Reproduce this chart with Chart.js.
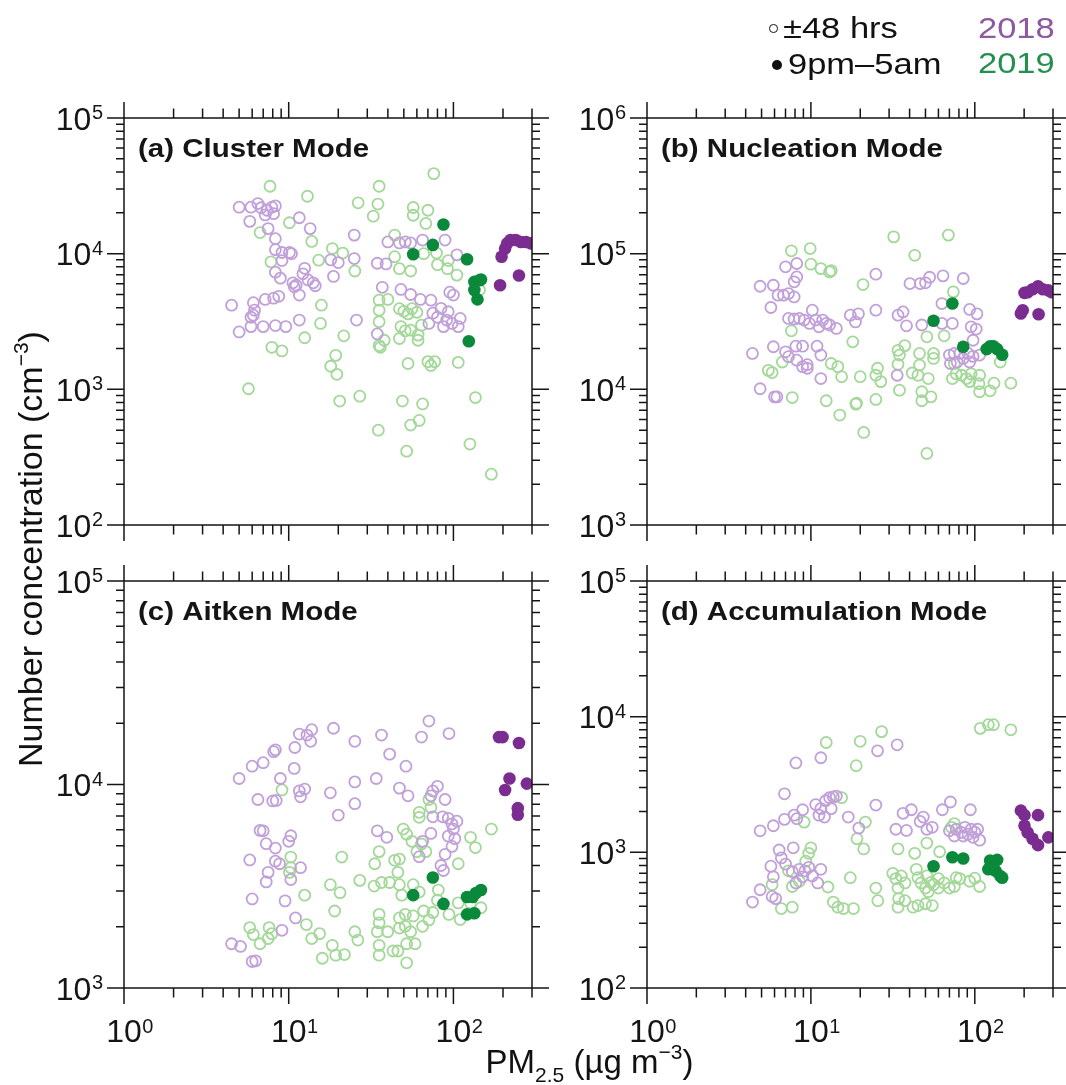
<!DOCTYPE html>
<html><head><meta charset="utf-8">
<script src="https://cdn.jsdelivr.net/npm/chart.js@4.4.1/dist/chart.umd.min.js"></script>
<style>
html,body{margin:0;padding:0;background:#fff;}
body{width:1066px;height:1085px;position:relative;overflow:hidden;font-family:"Liberation Sans",Arial,sans-serif;color:#111;}
canvas{position:absolute;left:0;top:0;}
.t{position:absolute;white-space:nowrap;line-height:1;}
.sup{font-size:21px;position:relative;top:-14px;}
.sub{font-size:21px;position:relative;top:9px;}
.sl{transform:scaleX(1.15);transform-origin:0 50%;}
.sr{transform:scaleX(1.15);transform-origin:100% 50%;}
</style></head><body>
<canvas id="ca" width="1066" height="1085"></canvas>
<canvas id="cb" width="1066" height="1085"></canvas>
<canvas id="cc" width="1066" height="1085"></canvas>
<canvas id="cd" width="1066" height="1085"></canvas>

<div style="position:absolute;left:769px;top:24px;width:8.6px;height:8.6px;border:1.4px solid #111;border-radius:50%;box-sizing:border-box;"></div>
<div style="position:absolute;left:772px;top:60.3px;width:10px;height:10px;background:#111;border-radius:50%;"></div>
<div class="t sl" style="left:783px;top:12.6px;font-size:30px;">±48 hrs</div>
<div class="t sl" style="left:788px;top:48.6px;font-size:30px;">9pm–5am</div>
<div class="t sr" id="y18" style="right:11px;top:12.6px;font-size:30px;">2018</div>
<div class="t sr" id="y19" style="right:11px;top:47.6px;font-size:30px;">2019</div>

<div class="t" style="left:289.5px;width:600px;text-align:center;top:1045px;font-size:33px;">PM<span class="sub">2.5</span> (µg m<span class="sup">−3</span>)</div>
<div class="t" style="left:-320px;width:700px;text-align:center;top:532px;height:34px;line-height:34px;font-size:34px;transform:rotate(-90deg);transform-origin:50% 50%;">Number concentration (cm<span class="sup">−3</span>)</div>

<script>
// ---------------- DATA ----------------
const panelTitles = ['(a) Cluster Mode', '(b) Nucleation Mode', '(c) Aitken Mode', '(d) Accumulation Mode'];
const seriesNames = ['2018 ±48 hrs', '2019 ±48 hrs', '2019 9pm–5am', '2018 9pm–5am'];
const xRange = [1, 300];
const xTickExps = [0, 1, 2];
const yRangeA = [1e2, 1e5];
const yRangeB = [1e3, 1e6];
const yRangeC = [1e3, 1e5];
const yRangeD = [1e2, 1e5];

// (a) Cluster mode  [PM2.5, number concentration]
const aOpen2018 = [[5.0,22000],[5.9,22000],[6.5,23400],[6.8,21800],[7.4,20900],[7.9,22000],[8.3,22500],[8.1,19700],[7.2,19300],[5.8,17300],[7.5,15300],[8.3,12900],[8.3,10700],[9.1,10200],[10.1,10200],[10.4,10000],[11.6,18400],[13.5,15300],[25,13700],[40,12200],[47,12000],[51,12200],[55,12000],[65,12600],[89,12600],[18,9000],[20,8600],[25,9200],[34.5,8500],[39,8400],[105,9800],[9.1,8900],[8.3,7300],[8.9,6600],[10.6,6100],[11.1,5850],[12.2,7100],[12.5,7800],[13.1,6400],[14.1,6100],[14.5,5800],[11.6,4950],[10.8,5700],[18.7,6800],[4.5,4170],[6.1,4350],[6.2,3830],[6.1,3520],[5.9,3400],[7.2,4600],[8.1,4700],[8.7,4850],[5.0,2650],[5.9,2900],[7.0,2900],[8.3,2950],[9.6,2900],[11.6,3240],[25.8,3240],[34.5,2560],[37,5650],[48,5450],[55,5000],[63,4600],[73,4540],[95,5200],[100,4950],[71,3060],[75,3640],[80,3400],[87,2900],[91,3240],[93,3730],[98,3060],[107,2900],[110,3330],[84,3950]];
const aOpen2019 = [[7.7,31400],[13.0,26500],[26.4,23700],[35.4,31400],[34.8,23200],[32.6,18900],[76,38900],[57,21900],[57,19200],[70,20900],[68,16700],[10.1,16900],[6.7,14300],[13.8,12300],[18.4,10900],[21.3,10100],[15.2,8950],[7.8,8700],[25.2,7450],[44,13700],[44,9500],[47,7750],[55,7450],[80,8300],[92,7750],[93,8900],[105,6950],[79,10100],[66,10000],[15.8,4170],[15.6,3060],[12.5,2400],[7.9,2040],[9.1,1920],[21.6,2480],[35.4,4540],[35.4,3830],[35.4,3150],[40,4600],[47,3930],[50,3760],[53,3600],[60,3700],[56,3930],[48,2900],[47,2370],[51,2700],[55,2730],[61,2510],[61,2300],[64,2970],[35.4,2100],[38,2300],[36,2040],[19.3,1780],[18,1480],[19.6,1290],[5.7,1010],[53,1550],[70,1600],[73,1500],[77,1600],[107,1580],[20.4,820],[27,890],[49,820],[65,780],[136,870],[35,500],[55,545],[62,590],[126,395],[52,350],[170,237],[144,5400]];
const aNight2019 = [[57,9900],[75,11600],[87,16400],[121,9100],[134,6200],[144,6370],[134,5400],[140,4600],[124,2260],[147,6450]];
const aNight2018 = [[196,9500],[192,5850],[206,10900],[212,11900],[222,12600],[239,12600],[257,12200],[276,12200],[295,11900],[250,6900]];

// (b) Nucleation mode
const bOpen2018 = [[4.4,18400],[4.9,57500],[4.9,10100],[5.9,58500],[5.7,40100],[5.9,20600],[6.0,8800],[6.2,8800],[6.3,49400],[6.8,49400],[7.0,80000],[7.3,50800],[7.9,48000],[8.2,84600],[8.2,67400],[7.9,62000],[7.3,33300],[7.9,33000],[8.5,33300],[9.1,32400],[9.8,30600],[10.2,38300],[10.7,32400],[11.2,28900],[11.8,32400],[12.4,30600],[13.0,29800],[14.3,28100],[7.0,18900],[7.3,17400],[8.2,16400],[8.9,14700],[9.5,14300],[8.1,20800],[8.9,20800],[10.9,20800],[11.5,17900],[11.5,12000],[9.5,15200],[17.4,35200],[18.7,31400],[19.5,36000],[24.9,38300],[24.9,70600],[34,35200],[36.5,37200],[38.3,29400],[33.6,12700],[40.2,60200],[46.4,60200],[50,61000],[53,67000],[64,68600],[85,65600],[63,42900],[47.5,29800],[63,30600],[73,30600],[93,38800],[103,36000],[95,28900],[102,27800],[97.6,23000],[70,17900],[75,18400],[81,18400],[85,16900],[91,18400],[97.6,17500],[107,17900],[71,15500],[78,15900],[93,15900]];
const bOpen2019 = [[7.6,105000],[9.9,109000],[10.0,83600],[11.5,77600],[13.0,73400],[13.3,75000],[20.8,59200],[32,133000],[43,97300],[69,137000],[74,52300],[7.6,27000],[18,22400],[37.4,21000],[34,19400],[34.7,17900],[34,15300],[46,18400],[56,18400],[56,16900],[51,24400],[65,24800],[75,15500],[5.5,13800],[5.8,13300],[6.7,15900],[7.7,8700],[12.4,8240],[13.3,15500],[14.6,14700],[15.4,12400],[15,6460],[18.8,7780],[19,7900],[20,12400],[21,4810],[24.9,8420],[25.5,14300],[26.7,11400],[24.9,12700],[34.7,9860],[41.5,13200],[45,12700],[46,15100],[47.5,9600],[47.5,8240],[52,12000],[54,8800],[51,3370],[73,12000],[77,13000],[83,12700],[89,12000],[95,13000],[107,12700],[93,11400],[106,11000],[107,9600],[124,9750],[131,11100],[143,15900],[166,11100]];
const bNight2019 = [[56,32000],[73,42900],[85,20600],[118,19800],[124,20800],[130,20800],[137,19800],[147,18000]];
const bNight2018 = [[191,36200],[196,38300],[201,51400],[210,52000],[225,54600],[243,57500],[260,54600],[281,53600],[295,52000],[245,35800]];

// (c) Aitken mode
const cOpen2018 = [[4.5,1650],[5.1,1600],[6.0,1350],[6.3,1360],[5.0,10700],[6.0,12300],[7.0,12800],[8.1,14500],[8.3,14800],[8.9,10700],[6.5,8440],[8.0,8300],[8.4,8350],[10.9,15200],[11.6,17700],[12.9,17500],[13.8,18600],[13.6,16300],[18.7,18900],[10.8,12000],[11.6,9300],[12.5,9500],[11.8,8700],[17.9,9100],[20.0,7070],[25.2,16300],[36.6,17500],[41,14100],[51.5,12300],[25.2,10300],[34,10700],[25.2,8050],[47,9600],[53,8800],[64,17100],[71,20500],[94,17800],[75,9300],[80,9800],[89,8440],[73,8800],[75,6940],[86,6940],[93,6820],[98,6400],[105,6600],[100,6040],[93,5580],[102,5420],[98,4960],[89,4540],[84,4000],[87,3780],[73,5750],[65,5260],[34.5,5920],[39.4,5500],[62,4420],[6.7,5950],[7.0,5920],[7.3,5120],[8.3,4870],[10.0,5260],[10.3,5600],[5.8,4260],[8.3,4200],[8.8,4080],[7.5,3700],[7.3,3320],[10.3,3410],[11.8,3900],[6.0,2740],[9.5,2680],[11.0,2210],[9.1,1920]];
const cOpen2019 = [[9.1,9400],[71,8440],[73,7700],[62,7300],[62,6900],[49.6,6040],[52,5700],[56,5260],[64,5100],[60,4680],[68,4680],[127,5500],[136,4900],[170,6040],[107,4080],[10.3,4400],[10.3,3900],[10.1,3700],[21,4400],[35.4,4680],[33.3,4080],[44,4240],[47,4300],[46,3700],[41,3300],[36.6,3300],[33,3170],[27,3380],[17.9,3220],[20.5,2940],[12.5,2860],[47,3220],[48.6,2860],[57,3220],[62,2960],[81,3030],[66,2390],[75,2350],[80,2700],[94,2300],[110,2170],[107,2620],[127,2620],[147,2480],[19,2390],[47,2210],[51,2300],[57,2260],[35.4,2300],[35.4,2090],[34.5,1890],[39.9,1890],[47,1970],[51,2010],[55,1890],[65,2010],[71,2160],[26.3,1720],[25.2,1890],[35.4,1620],[35.4,1450],[43,1520],[46,1520],[52,1650],[58.5,1650],[52,1330],[18.4,1620],[19.3,1450],[21.8,1460],[16,1400],[13.8,1750],[15.4,1850],[12.8,2050],[5.8,1980],[6.1,1830],[6.7,1650],[7.6,1980],[7.9,1850],[7.5,1750]];
const cNight2019 = [[57,2860],[75,3490],[87,2590],[121,2800],[131,2800],[137,2930],[147,3030],[121,2300],[134,2330]];
const cNight2018 = [[189,17100],[199,17100],[250,16000],[219,10700],[206,9400],[279,10100],[246,7650],[246,7100]];

// (d) Accumulation mode
const dOpen2018 = [[4.4,430],[4.9,530],[4.9,1440],[5.9,1570],[6.9,2700],[6.9,1750],[8.1,4560],[8.2,1770],[7.9,1880],[8.9,2060],[11.5,4980],[10.7,2250],[11.5,2100],[12.3,2400],[13.0,2530],[13.7,2560],[14.3,2600],[13.3,2100],[11.2,1880],[12.1,1820],[16.9,1820],[19.6,1510],[24.9,2230],[25.5,5600],[33.6,6200],[36.5,1940],[41,2060],[33,1480],[38.3,1450],[46.4,1690],[48.5,1820],[51,1480],[55,1530],[63.4,2060],[71,2350],[94,2060],[70,1440],[77,1480],[83,1400],[87,1530],[91,1360],[95,1480],[100,1410],[104,1480],[107,1230],[97.6,1290],[85,1320],[75,1320],[6.4,1040],[7.8,1080],[6.6,910],[7.0,820],[5.7,790],[5.9,660],[5.8,473],[6.1,456],[7.7,720],[8.5,750],[9.2,731],[9.7,776],[10.2,670],[11.5,750],[11.0,595],[8.9,660],[8.1,595]];
const dOpen2019 = [[12.4,6450],[20,6580],[27,7760],[18.9,4350],[108,8200],[121,8730],[130,8730],[166,8000],[15.4,2530],[9.1,1670],[19.1,1260],[21,1060],[21.5,1670],[34,1060],[43,983],[51,1170],[61,1010],[72,1530],[75,1630],[10,1080],[9.7,983],[9.3,860],[7.3,731],[7.7,560],[8.5,612],[6.6,385],[7.7,394],[5.8,578],[12.7,555],[13.7,430],[14.6,394],[15.8,385],[18.2,385],[17.4,650],[24.9,545],[25.6,440],[31.6,700],[33,640],[35.6,670],[37.5,595],[34,545],[34.3,456],[34,394],[37.5,440],[42,394],[45,405],[50,418],[55,405],[44,750],[45,650],[47,595],[50,545],[52,513],[56,578],[51,670],[54,600],[60,545],[65,595],[70,545],[75,560],[60,640],[77,650],[81,640],[93,612],[107,560],[100,645]];
const dNight2019 = [[56,790],[73,920],[85,900],[121,750],[124,870],[137,880],[134,730],[143,670],[147,650],[124,776]];
const dNight2018 = [[191,2030],[201,1880],[243,1880],[201,1570],[210,1400],[225,1260],[243,1130],[281,1290]];

// ---------------- STYLE / LAYOUT ----------------
const COL_OPEN18 = '#c1a0da';
const COL_OPEN19 = '#a3d899';
const COL_NIGHT18 = '#7b2c90';
const COL_NIGHT19 = '#0a893b';
const INK = '#151515';
const FONT = '"Liberation Sans", Arial, sans-serif';
document.getElementById('y18').style.color = '#8f59a1';
document.getElementById('y19').style.color = '#23904f';

const W = 1066, H = 1085;
function padFor(l, t, r, b) { return {left: l, top: t, right: W - r, bottom: H - b}; }

const framePlugin = {
  id: 'frame',
  afterDraw(chart, args, o) {
    const ctx = chart.ctx, xs = chart.scales.x, ys = chart.scales.y, a = chart.chartArea;
    ctx.save();
    ctx.strokeStyle = INK; ctx.fillStyle = INK; ctx.lineWidth = 1.5;
    ctx.strokeRect(a.left, a.top, a.right - a.left, a.bottom - a.top);
    ctx.beginPath();
    for (let e = -1; e <= 3; e++) for (let m = 1; m <= 9; m++) {
      const v = m * Math.pow(10, e);
      if (v < xs.min * 0.999 || v > xs.max * 1.001) continue;
      const px = xs.getPixelForValue(v);
      const len = m === 1 ? 16 : 9.5;
      ctx.moveTo(px, a.bottom); ctx.lineTo(px, a.bottom + len);
      ctx.moveTo(px, a.top); ctx.lineTo(px, a.top - len);
    }
    for (let e = 0; e <= 7; e++) for (let m = 1; m <= 9; m++) {
      const v = m * Math.pow(10, e);
      if (v < ys.min * 0.999 || v > ys.max * 1.001) continue;
      const py = ys.getPixelForValue(v);
      const len = m === 1 ? 17 : 8;
      ctx.moveTo(a.left, py); ctx.lineTo(a.left - len, py);
      ctx.moveTo(a.right, py); ctx.lineTo(a.right + len, py);
    }
    ctx.stroke();

    const e0 = Math.round(Math.log10(ys.min)), e1 = Math.round(Math.log10(ys.max));
    for (let e = e0; e <= e1; e++) {
      const py = ys.getPixelForValue(Math.pow(10, e));
      ctx.textAlign = 'right'; ctx.textBaseline = 'alphabetic';
      ctx.font = '20px ' + FONT;
      const ex = a.left - 21;
      ctx.fillText(String(e), ex, py + 1);
      const ew = ctx.measureText(String(e)).width;
      ctx.font = '32px ' + FONT;
      ctx.fillText('10', ex - ew - 0.5, py + 11.5);
    }
    if (o.xLabels) {
      for (const e of xTickExps) {
        const px = xs.getPixelForValue(Math.pow(10, e));
        ctx.font = '32px ' + FONT; ctx.textAlign = 'center';
        const w = ctx.measureText('10').width;
        ctx.fillText('10', px, a.bottom + 54);
        ctx.font = '20px ' + FONT; ctx.textAlign = 'left';
        ctx.fillText(String(e), px + w / 2 + 0.5, a.bottom + 44.5);
      }
    }
    ctx.font = 'bold 25px ' + FONT; ctx.textAlign = 'left';
    ctx.translate(a.left + 14, a.top + 39);
    ctx.scale(1.18, 1);
    ctx.fillText(o.title, 0, 0);
    ctx.restore();
  }
};

function xy(arr) { return arr.map(p => ({x: p[0], y: p[1]})); }

function makePanel(id, pad, yRange, open18, open19, night19, night18, title, xLabels) {
  const openStyle = (c) => ({pointRadius: 5.5, pointBorderWidth: 1.8, pointBorderColor: c, pointBackgroundColor: 'rgba(255,255,255,0)', pointHoverRadius: 5.5});
  const fillStyle = (c) => ({pointRadius: 6.3, pointBorderWidth: 0, pointBorderColor: c, pointBackgroundColor: c, pointHoverRadius: 6.3});
  return new Chart(document.getElementById(id), {
    type: 'scatter',
    data: {datasets: [
      Object.assign({label: seriesNames[3], data: xy(night18), order: 0, clip: 0}, fillStyle(COL_NIGHT18)),
      Object.assign({label: seriesNames[2], data: xy(night19), order: 1, clip: 0}, fillStyle(COL_NIGHT19)),
      Object.assign({label: seriesNames[0], data: xy(open18), order: 2, clip: 0}, openStyle(COL_OPEN18)),
      Object.assign({label: seriesNames[1], data: xy(open19), order: 3, clip: 0}, openStyle(COL_OPEN19))
    ]},
    options: {
      responsive: false, animation: false, devicePixelRatio: 1, events: [],
      layout: {padding: pad},
      plugins: {legend: {display: false}, tooltip: {enabled: false}, frame: {title: title, xLabels: xLabels}},
      scales: {
        x: {type: 'logarithmic', min: xRange[0], max: xRange[1], display: false},
        y: {type: 'logarithmic', min: yRange[0], max: yRange[1], display: false}
      }
    },
    plugins: [framePlugin]
  });
}

makePanel('ca', padFor(124, 118, 532, 525), yRangeA, aOpen2018, aOpen2019, aNight2019, aNight2018, panelTitles[0], false);
makePanel('cb', padFor(647, 118, 1053, 525), yRangeB, bOpen2018, bOpen2019, bNight2019, bNight2018, panelTitles[1], false);
makePanel('cc', padFor(124, 581, 532, 988), yRangeC, cOpen2018, cOpen2019, cNight2019, cNight2018, panelTitles[2], true);
makePanel('cd', padFor(647, 581, 1053, 988), yRangeD, dOpen2018, dOpen2019, dNight2019, dNight2018, panelTitles[3], true);
</script>
</body></html>
